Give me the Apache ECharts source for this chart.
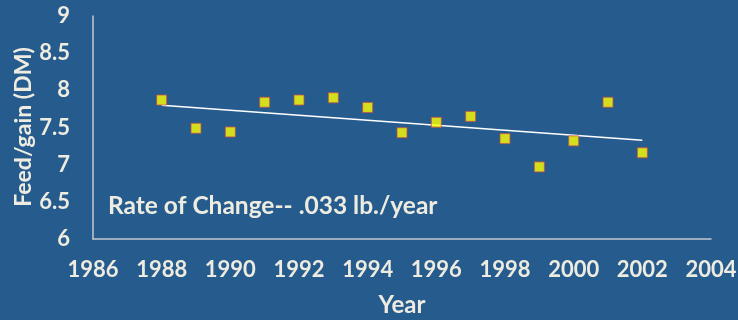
<!DOCTYPE html>
<html>
<head>
<meta charset="utf-8">
<script src="https://cdn.jsdelivr.net/npm/echarts@6/dist/echarts.min.js"></script>
<style>
  html, body { margin: 0; padding: 0; background: #265b8e; }
  #chart { width: 738px; height: 320px; }
</style>
</head>
<body>
<div id="chart"></div>
<script>
// Feed/gain (dry matter) by year
const years = [1988, 1989, 1990, 1991, 1992, 1993, 1994, 1995, 1996, 1997, 1998, 1999, 2000, 2001, 2002];
const feedGain = [7.87, 7.49, 7.44, 7.84, 7.87, 7.90, 7.77, 7.43, 7.57, 7.65, 7.35, 6.97, 7.32, 7.84, 7.16];

// Linear trend line end points
const trendYears = [1988, 2002];
const trendValues = [7.80, 7.33];

const xTitle = 'Year';
const yTitle = 'Feed/gain (DM)';
const note = 'Rate of Change-- .033 lb./year';

const textColor = '#eeece1';
const axisColor = '#c3c8cf';
const font = 'Lato, "Open Sans", sans-serif';

const chart = echarts.init(document.getElementById('chart'));
chart.setOption({
  backgroundColor: '#265b8e',
  animation: false,
  grid: { left: 93, right: 27, top: 16, bottom: 81, containLabel: false, outerBoundsMode: 'none' },
  xAxis: {
    type: 'value',
    min: 1986, max: 2004, interval: 2,
    name: xTitle,
    nameLocation: 'middle',
    nameGap: 54,
    nameTextStyle: { color: textColor, fontFamily: font, fontWeight: 'bold', fontSize: 24 },
    axisLine: { show: true, lineStyle: { color: axisColor, width: 1.5 } },
    axisTick: { show: false },
    splitLine: { show: false },
    axisLabel: {
      color: textColor, fontFamily: font, fontWeight: 'bold', fontSize: 22, margin: 20,
      formatter: v => String(v)
    }
  },
  yAxis: {
    type: 'value',
    min: 6, max: 9, interval: 0.5,
    axisLine: { show: true, lineStyle: { color: axisColor, width: 1.5 } },
    axisTick: { show: false },
    splitLine: { show: false },
    axisLabel: { color: textColor, fontFamily: font, fontWeight: 'bold', fontSize: 22, margin: 23 }
  },
  series: [
    {
      type: 'line',
      data: trendYears.map((y, i) => [y, trendValues[i]]),
      symbol: 'none',
      lineStyle: { color: '#ffffff', width: 1.5 },
      z: 2
    },
    {
      type: 'scatter',
      data: years.map((y, i) => [y, feedGain[i]]),
      symbol: 'rect',
      symbolSize: 10,
      itemStyle: { color: '#ffff00', borderColor: '#c0504d', borderWidth: 1 },
      z: 3
    }
  ],
  graphic: [
    {
      type: 'text',
      x: 24,
      y: 127,
      rotation: Math.PI / 2,
      style: {
        text: yTitle, fill: textColor, font: 'bold 23px ' + font,
        align: 'center', verticalAlign: 'middle'
      }
    },
    {
      type: 'text',
      left: 108,
      top: 194,
      style: { text: note, fill: textColor, font: 'bold 24.5px ' + font }
    }
  ]
});
</script>
</body>
</html>
